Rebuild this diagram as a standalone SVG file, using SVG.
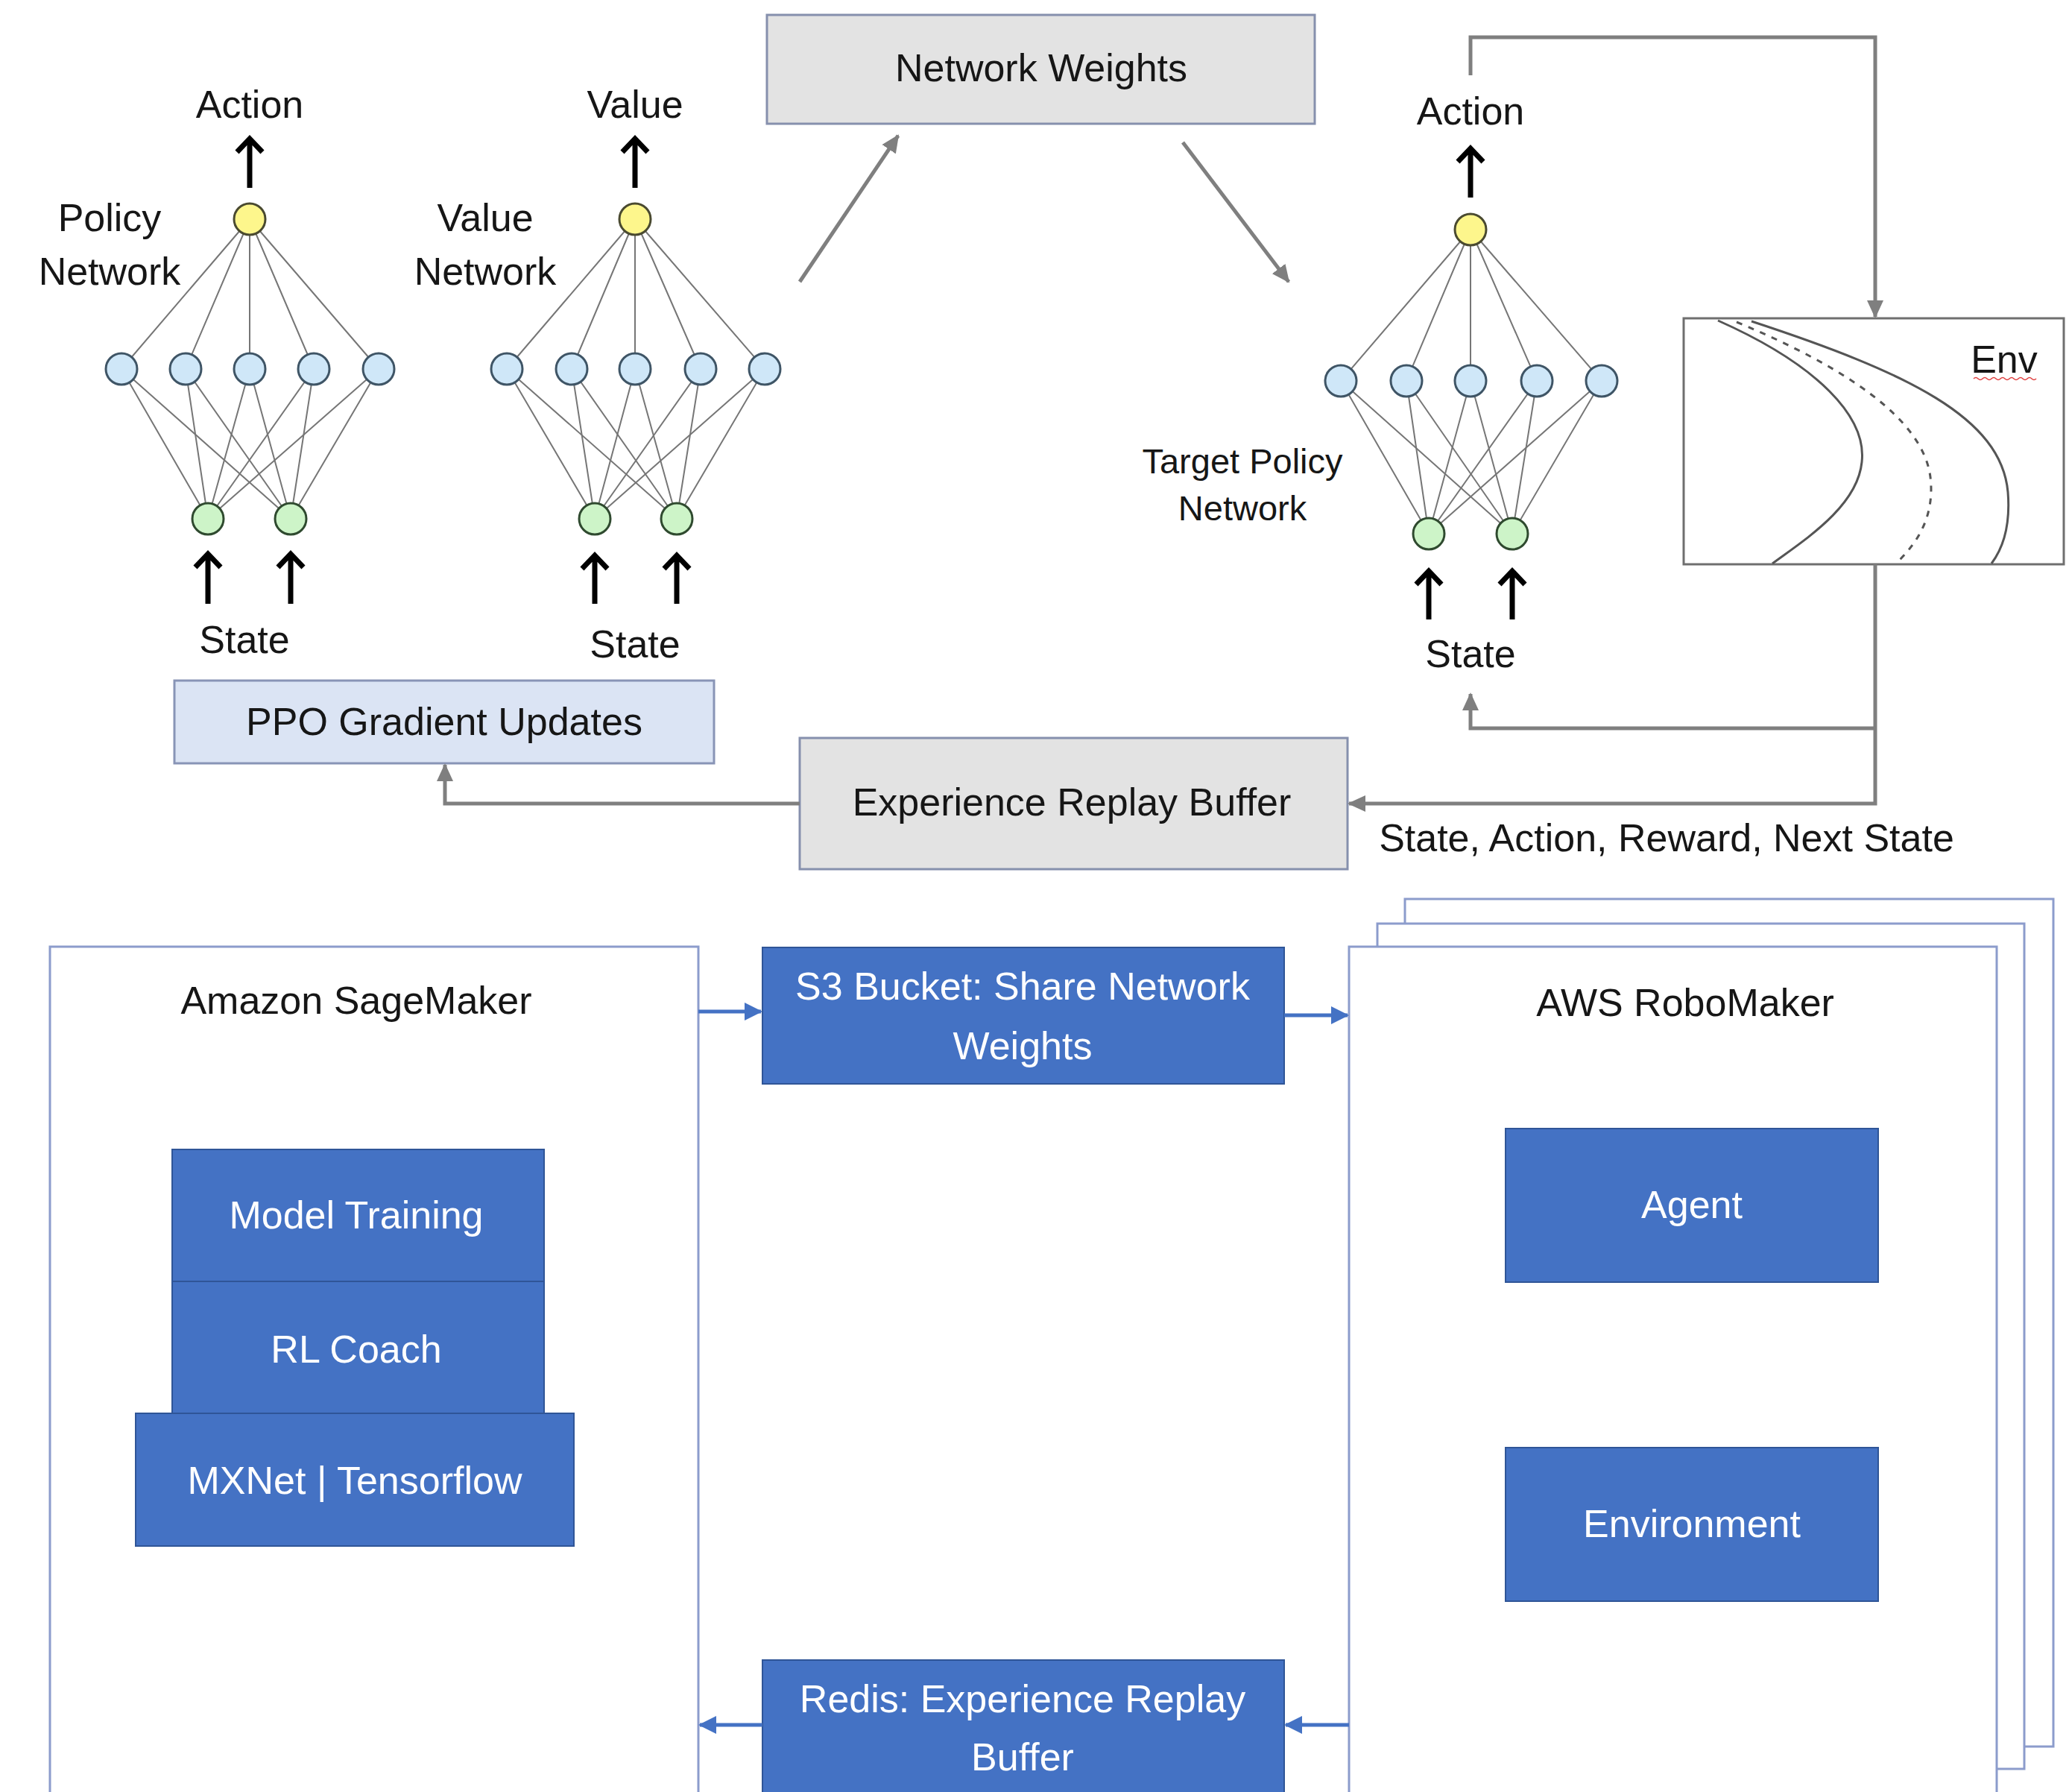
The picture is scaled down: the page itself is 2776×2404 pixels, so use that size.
<svg xmlns="http://www.w3.org/2000/svg" width="2776" height="2404" viewBox="0 0 2776 2404">
<style>
text{font-family:"Liberation Sans",Arial,sans-serif;font-size:52px;fill:#161616;text-anchor:middle}
.w{fill:#ffffff}
.edge{stroke:#767676;stroke-width:2;fill:none}
.ny{fill:#fdf68c;stroke:#4a4a30;stroke-width:3}
.nb{fill:#cfe7f8;stroke:#3f5566;stroke-width:3}
.ng{fill:#cdf4c8;stroke:#2f4a2f;stroke-width:3}
.up{stroke:#000;stroke-width:7;fill:none;stroke-linejoin:miter}
.gc{stroke:#7f7f7f;stroke-width:5;fill:none}
.bc{stroke:#4472c4;stroke-width:5;fill:none}
.gbox{fill:#e3e3e3;stroke:#8690ad;stroke-width:3}
.blue{fill:#4472c4;stroke:#2f5597;stroke-width:2}
.frame{fill:#ffffff;stroke:#8c9ccc;stroke-width:3}
</style>
<defs>
<marker id="ag" markerUnits="userSpaceOnUse" markerWidth="24" markerHeight="22" refX="22" refY="11" orient="auto"><path d="M0,0 L24,11 L0,22 Z" fill="#7f7f7f"/></marker>
<marker id="ab" markerUnits="userSpaceOnUse" markerWidth="24" markerHeight="24" refX="22" refY="12" orient="auto"><path d="M0,0 L24,12 L0,24 Z" fill="#4472c4"/></marker>
</defs>

<g id="policy-network">
<g class="edge">
<path d="M335,294 L163,495 M335,294 L249,495 M335,294 L335,495 M335,294 L421,495 M335,294 L508,495"/>
<path d="M163,495 L279,696 M249,495 L279,696 M335,495 L279,696 M421,495 L279,696 M508,495 L279,696"/>
<path d="M163,495 L390,696 M249,495 L390,696 M335,495 L390,696 M421,495 L390,696 M508,495 L390,696"/>
</g>
<circle class="ny" cx="335" cy="294" r="21"/>
<circle class="nb" cx="163" cy="495" r="21"/><circle class="nb" cx="249" cy="495" r="21"/><circle class="nb" cx="335" cy="495" r="21"/><circle class="nb" cx="421" cy="495" r="21"/><circle class="nb" cx="508" cy="495" r="21"/>
<circle class="ng" cx="279" cy="696" r="21"/><circle class="ng" cx="390" cy="696" r="21"/>
<path class="up" d="M335,252 V186 M318,204 L335,186 L352,204"/>
<path class="up" d="M279,810 V743 M262,761 L279,743 L296,761"/>
<path class="up" d="M390,810 V743 M373,761 L390,743 L407,761"/>
<text x="335" y="158">Action</text>
<text x="147" y="310">Policy</text>
<text x="147" y="382">Network</text>
<text x="328" y="876">State</text>
</g>

<g id="value-network">
<g class="edge">
<path d="M852,294 L680,495 M852,294 L767,495 M852,294 L852,495 M852,294 L940,495 M852,294 L1026,495"/>
<path d="M680,495 L798,696 M767,495 L798,696 M852,495 L798,696 M940,495 L798,696 M1026,495 L798,696"/>
<path d="M680,495 L908,696 M767,495 L908,696 M852,495 L908,696 M940,495 L908,696 M1026,495 L908,696"/>
</g>
<circle class="ny" cx="852" cy="294" r="21"/>
<circle class="nb" cx="680" cy="495" r="21"/><circle class="nb" cx="767" cy="495" r="21"/><circle class="nb" cx="852" cy="495" r="21"/><circle class="nb" cx="940" cy="495" r="21"/><circle class="nb" cx="1026" cy="495" r="21"/>
<circle class="ng" cx="798" cy="696" r="21"/><circle class="ng" cx="908" cy="696" r="21"/>
<path class="up" d="M852,252 V186 M835,204 L852,186 L869,204"/>
<path class="up" d="M798,810 V745 M781,763 L798,745 L815,763"/>
<path class="up" d="M908,810 V745 M891,763 L908,745 L925,763"/>
<text x="852" y="158">Value</text>
<text x="651" y="310">Value</text>
<text x="651" y="382">Network</text>
<text x="852" y="882">State</text>
</g>

<g id="network-weights">
<rect class="gbox" x="1029" y="20" width="735" height="146"/>
<text x="1397" y="109">Network Weights</text>
</g>

<g id="target-policy-network">
<g class="edge">
<path d="M1973,308 L1799,511 M1973,308 L1887,511 M1973,308 L1973,511 M1973,308 L2062,511 M1973,308 L2149,511"/>
<path d="M1799,511 L1917,716 M1887,511 L1917,716 M1973,511 L1917,716 M2062,511 L1917,716 M2149,511 L1917,716"/>
<path d="M1799,511 L2029,716 M1887,511 L2029,716 M1973,511 L2029,716 M2062,511 L2029,716 M2149,511 L2029,716"/>
</g>
<circle class="ny" cx="1973" cy="308" r="21"/>
<circle class="nb" cx="1799" cy="511" r="21"/><circle class="nb" cx="1887" cy="511" r="21"/><circle class="nb" cx="1973" cy="511" r="21"/><circle class="nb" cx="2062" cy="511" r="21"/><circle class="nb" cx="2149" cy="511" r="21"/>
<circle class="ng" cx="1917" cy="716" r="21"/><circle class="ng" cx="2029" cy="716" r="21"/>
<path class="up" d="M1973,265 V199 M1956,217 L1973,199 L1990,217"/>
<path class="up" d="M1917,831 V766 M1900,784 L1917,766 L1934,784"/>
<path class="up" d="M2029,831 V766 M2012,784 L2029,766 L2046,784"/>
<text x="1973" y="167">Action</text>
<text x="1667" y="635" style="font-size:47px">Target Policy</text>
<text x="1667" y="698" style="font-size:47px">Network</text>
<text x="1973" y="895">State</text>
</g>

<g id="env">
<rect x="2259" y="427" width="510" height="330" fill="#ffffff" stroke="#6f6f6f" stroke-width="3"/>
<path d="M2305,430 C2440,490 2505,560 2498,620 C2492,680 2420,725 2378,756" fill="none" stroke="#555" stroke-width="3"/>
<path d="M2330,432 C2470,490 2580,560 2590,640 C2597,700 2565,735 2544,756" fill="none" stroke="#555" stroke-width="3" stroke-dasharray="8,9"/>
<path d="M2350,431 C2560,500 2685,560 2694,660 C2698,710 2684,740 2672,756" fill="none" stroke="#555" stroke-width="3"/>
<text x="2689" y="500">Env</text>
<path d="M2648,508 q3,-3 6,0 t6,0 t6,0 t6,0 t6,0 t6,0 t6,0 t6,0 t6,0 t6,0 t6,0 t6,0 t6,0 t6,0" fill="none" stroke="#e04040" stroke-width="1.5"/>
</g>

<g id="ppo-gradient-updates">
<rect x="234" y="913" width="724" height="111" fill="#dbe4f4" stroke="#8894b6" stroke-width="3"/>
<text x="596" y="986">PPO Gradient Updates</text>
</g>

<g id="experience-replay-buffer">
<rect class="gbox" x="1073" y="990" width="735" height="176"/>
<text x="1438" y="1094">Experience Replay Buffer</text>
</g>

<text x="2236" y="1142">State, Action, Reward, Next State</text>

<g id="amazon-sagemaker">
<rect class="frame" x="67" y="1270" width="870" height="1160"/>
<text x="478" y="1360">Amazon SageMaker</text>
<rect class="blue" x="231" y="1542" width="499" height="177"/>
<text class="w" x="478" y="1648">Model Training</text>
<rect class="blue" x="231" y="1719" width="499" height="177"/>
<text class="w" x="478" y="1828">RL Coach</text>
<rect class="blue" x="182" y="1896" width="588" height="178"/>
<text class="w" x="476" y="2004">MXNet | Tensorflow</text>
</g>

<g id="s3-bucket">
<rect class="blue" x="1023" y="1271" width="700" height="183"/>
<text class="w" x="1372" y="1341">S3 Bucket: Share Network</text>
<text class="w" x="1372" y="1421">Weights</text>
</g>

<g id="redis">
<rect class="blue" x="1023" y="2227" width="700" height="200"/>
<text class="w" x="1372" y="2297">Redis: Experience Replay</text>
<text class="w" x="1372" y="2375">Buffer</text>
</g>

<g id="aws-robomaker">
<rect class="frame" x="1885" y="1206" width="870" height="1137"/>
<rect class="frame" x="1848" y="1239" width="868" height="1134"/>
<rect class="frame" x="1810" y="1270" width="869" height="1160"/>
<text x="2261" y="1363">AWS RoboMaker</text>
<rect class="blue" x="2020" y="1514" width="500" height="206"/>
<text class="w" x="2270" y="1634">Agent</text>
<rect class="blue" x="2020" y="1942" width="500" height="206"/>
<text class="w" x="2270" y="2062">Environment</text>
</g>

<g id="connectors">
<path class="gc" stroke-width="4" d="M1073,378 L1205,182" marker-end="url(#ag)"/>
<path class="gc" stroke-width="4" d="M1587,191 L1729,378" marker-end="url(#ag)"/>
<path class="gc" d="M1973,101 V50 H2516 V425" marker-end="url(#ag)"/>
<path class="gc" d="M2516,757 V1078 H1810" marker-end="url(#ag)"/>
<path class="gc" d="M2516,977 H1973 V931" marker-end="url(#ag)"/>
<path class="gc" d="M1073,1078 H597 V1026" marker-end="url(#ag)"/>
<path class="bc" d="M937,1357 H1021" marker-end="url(#ab)"/>
<path class="bc" d="M1723,1362 H1808" marker-end="url(#ab)"/>
<path class="bc" d="M1810,2314 H1725" marker-end="url(#ab)"/>
<path class="bc" d="M1023,2314 H939" marker-end="url(#ab)"/>
</g>
</svg>
